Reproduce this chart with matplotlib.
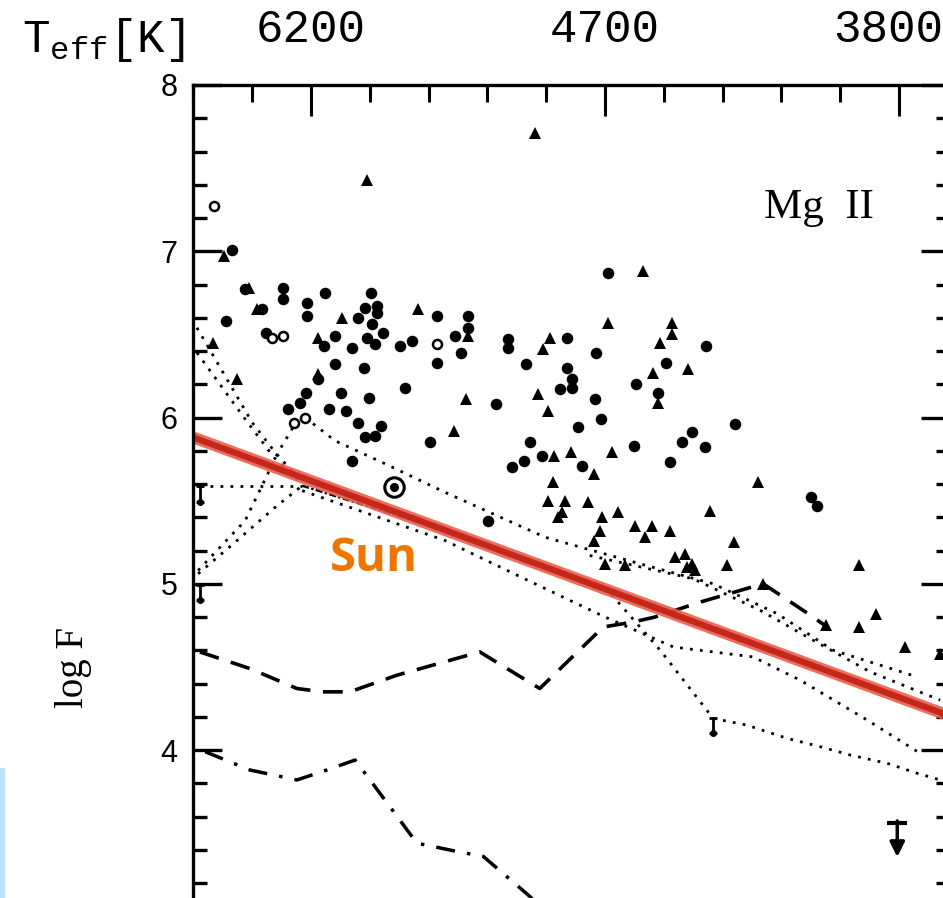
import matplotlib
matplotlib.use('Agg')
import matplotlib.pyplot as plt
import matplotlib.transforms as mtransforms
from matplotlib.patches import Rectangle

# Mg II surface flux vs colour (B-V), Teff shown on top
plt.rcParams['mathtext.fontset'] = 'custom'
plt.rcParams['mathtext.rm'] = 'Liberation Mono'

# filled circles (B-V, log F)
circ_x = [0.366, 0.388, 0.452, 0.452, 0.417, 0.355, 0.423, 0.493, 0.493, 0.524,
          0.602, 0.592, 0.612, 0.612, 0.580, 0.604, 0.622, 0.595, 0.609, 0.522,
          0.541, 0.570, 0.651, 0.672, 0.714, 0.714, 0.541, 0.590, 0.512, 0.660,
          0.491, 0.551, 0.599, 0.481, 0.461, 0.531, 0.560, 0.580, 0.619, 0.592,
          0.609, 0.702, 0.570, 0.872, 0.862, 0.893, 0.842, 0.801, 1.005, 0.767,
          0.767, 0.745, 0.755, 0.835, 0.835, 0.935, 0.985, 0.866, 0.935, 0.944,
          0.944, 0.923, 0.815, 0.983, 0.993, 0.954, 1.053, 1.104, 1.090, 1.172,
          1.221, 0.961, 1.049, 1.111, 1.131, 1.148, 1.170, 1.350, 1.361]
circ_y = [7.01, 6.77, 6.78, 6.71, 6.65, 6.58, 6.51, 6.69, 6.61, 6.75,
          6.75, 6.66, 6.67, 6.63, 6.60, 6.56, 6.51, 6.48, 6.44, 6.43,
          6.49, 6.42, 6.43, 6.46, 6.61, 6.33, 6.32, 6.30, 6.23, 6.18,
          6.15, 6.15, 6.12, 6.09, 6.05, 6.05, 6.04, 5.97, 5.95, 5.88,
          5.89, 5.85, 5.74, 5.85, 5.74, 5.77, 5.70, 5.38, 6.87, 6.61,
          6.54, 6.49, 6.39, 6.47, 6.42, 6.48, 6.39, 6.32, 6.30, 6.23,
          6.18, 6.17, 6.08, 6.11, 5.99, 5.94, 6.20, 6.33, 6.15, 6.43,
          5.96, 5.71, 5.83, 5.73, 5.85, 5.91, 5.82, 5.52, 5.47]

# filled triangles
tri_x = [0.352, 0.395, 0.408, 0.333, 0.553, 0.512, 0.682, 0.374, 0.512, 0.595,
         0.881, 1.065, 0.767, 0.906, 0.895, 1.005, 0.764, 0.886, 0.903, 1.082,
         1.094, 1.114, 1.114, 1.141, 1.090, 0.743, 0.913, 0.942, 0.981, 1.012,
         0.912, 0.903, 0.932, 0.927, 0.920, 0.971, 0.995, 1.022, 0.991, 1.051,
         1.080, 1.068, 1.111, 0.981, 1.119, 1.136, 1.148, 1.139, 1.153, 1.000,
         1.034, 1.260, 1.179, 1.219, 1.207, 1.432, 1.461, 1.432, 1.376, 1.510,
         1.570, 1.269]
tri_y = [6.97, 6.78, 6.65, 6.45, 6.60, 6.48, 6.65, 6.23, 6.26, 7.43,
         7.71, 6.88, 6.49, 6.48, 6.41, 6.57, 6.11, 6.14, 6.04, 6.27,
         6.45, 6.57, 6.50, 6.29, 6.09, 5.92, 5.77, 5.79, 5.66, 5.79,
         5.61, 5.50, 5.50, 5.43, 5.40, 5.49, 5.40, 5.43, 5.32, 5.35,
         5.35, 5.28, 5.32, 5.26, 5.16, 5.18, 5.12, 5.10, 5.08, 5.12,
         5.11, 5.61, 5.44, 5.25, 5.11, 5.11, 4.82, 4.74, 4.75, 4.62,
         4.58, 5.00]

# open circles
open_x = [0.335, 0.434, 0.452, 0.714, 0.471, 0.490]
open_y = [7.27, 6.48, 6.49, 6.44, 5.97, 6.00]

sun_x, sun_y = 0.641, 5.58

# error bars / upper limit
err_x = [0.311, 0.311, 1.184]
err_top = [5.59, 4.99, 4.19]
err_bot = [5.49, 4.90, 4.10]
lim_x, lim_top, lim_end = 1.497, 3.56, 3.34

# model curves
dash_x = [0.311, 0.396, 0.476, 0.520, 0.566, 0.646, 0.787, 0.889, 0.997, 1.048,
          1.085, 1.162, 1.269, 1.337, 1.378]
dash_y = [4.59, 4.49, 4.37, 4.35, 4.35, 4.45, 4.59, 4.37, 4.74, 4.77,
          4.80, 4.89, 5.00, 4.84, 4.74]
dashdot_x = [0.320, 0.396, 0.476, 0.527, 0.575, 0.634, 0.680, 0.748, 0.793, 0.872, 0.898]
dashdot_y = [3.99, 3.88, 3.82, 3.88, 3.94, 3.66, 3.44, 3.39, 3.36, 3.12, 3.03]

# evolutionary tracks (dotted)
tracks = [
    ([0.311, 0.485], [5.59, 5.59]),
    ([1.000, 1.094, 1.184], [4.98, 4.60, 4.19]),
    ([0.306, 0.400, 0.439, 0.485], [6.54, 5.97, 5.79, 5.61]),
    ([0.306, 0.386, 0.437, 0.485], [6.39, 6.00, 5.76, 5.60]),
    ([0.308, 0.388, 0.444, 0.471], [5.08, 5.38, 5.79, 5.95]),
    ([0.308, 0.371, 0.439, 0.485], [5.06, 5.25, 5.46, 5.59]),
    ([0.490, 0.541, 0.621, 0.728, 0.898, 1.060, 1.184, 1.293, 1.388, 1.531],
     [6.00, 5.86, 5.73, 5.55, 5.28, 5.12, 5.00, 4.82, 4.60, 4.44]),
    ([0.485, 0.728, 0.869, 1.000, 1.116, 1.252, 1.332, 1.446, 1.536],
     [5.56, 5.26, 5.02, 4.80, 4.62, 4.56, 4.42, 4.18, 3.98]),
    ([0.974, 1.150, 1.264, 1.354, 1.451, 1.570], [5.17, 5.03, 4.84, 4.66, 4.47, 4.30]),
    ([1.184, 1.241, 1.310, 1.366, 1.417, 1.480, 1.531, 1.570],
     [4.19, 4.15, 4.07, 4.02, 3.97, 3.92, 3.86, 3.82]),
]
fine_x = [0.485, 0.728, 1.000]
fine_y = [5.59, 5.32, 4.98]

sunline_x = [0.30, 1.59]
sunline_y = [5.88, 4.20]

teff_pos = [0.5, 1.0, 1.5]
teff_lab = ['6200', '4700', '3800']

fig = plt.figure(figsize=(9.43, 8.98), dpi=100)
ax = fig.add_axes([193/943, 0, 757/943, 813/898])

for tx, ty in tracks:
    ax.plot(tx, ty, color='k', lw=2, linestyle=(0, (1, 2.6)))
ax.plot(fine_x, fine_y, color='k', lw=1.7, linestyle=(0, (3, 1, 1, 1)))
ax.plot(dash_x, dash_y, color='k', lw=2.6, linestyle=(0, (5.5, 3.5)))
ax.plot(dashdot_x, dashdot_y, color='k', lw=2.5, linestyle=(0, (5.5, 3.5, 1, 3.5)))

ax.plot(circ_x, circ_y, 'o', color='k', ms=8.3, mew=0)
ax.plot(tri_x, tri_y, '^', color='k', ms=9, mew=0)
ax.plot(open_x, open_y, 'o', mfc='white', mec='k', ms=6.5, mew=1.8)
ax.plot(sun_x, sun_y, 'o', mfc='none', mec='k', ms=14, mew=2.2)
ax.plot(sun_x, sun_y, 'o', color='k', ms=5.5)

ax.errorbar(err_x, [(a + b) / 2 for a, b in zip(err_top, err_bot)],
            yerr=[(a - b) / 2 for a, b in zip(err_top, err_bot)],
            fmt='none', ecolor='k', elinewidth=2, capsize=3, capthick=2)
ax.plot(err_x, err_bot, 'o', color='k', ms=4)
ax.plot(lim_x, lim_top, '_', color='k', ms=15, mew=3)
ax.annotate('', xy=(lim_x, lim_end), xytext=(lim_x, lim_top + 0.03),
            arrowprops=dict(arrowstyle='-|>', color='k', lw=2.5, mutation_scale=22))

# solar line overlay
ax.plot(sunline_x, sunline_y, color='#EC5E4A', lw=8.5, alpha=0.9, solid_capstyle='butt')
ax.plot(sunline_x, sunline_y, color='#C4281C', lw=4.5, solid_capstyle='butt')
ax.text(0.607, 5.15, 'Sun', color='#EE7600', fontsize=34, fontweight='bold',
        family='Open Sans', ha='center', va='center')

ax.text(1.364, 7.26, 'Mg  II', family='Liberation Serif', fontsize=31,
        ha='center', va='center')

ax.set_xlim(0.2993, 1.5867)
ax.set_ylim(3.11, 8.0)

ax.spines['bottom'].set_visible(False)
for s in ['left', 'top', 'right']:
    ax.spines[s].set_linewidth(2.4)

ax.set_xticks(teff_pos)
ax.set_xticklabels(teff_lab, family='Liberation Mono', fontsize=33)
ax.set_xticks([0.3 + 0.1 * i for i in range(13)], minor=True)
ax.set_yticks([4, 5, 6, 7, 8])
ax.set_yticklabels(['4', '5', '6', '7', '8'], family=['Liberation Sans Narrow', 'Liberation Sans'],
                   fontsize=22)
ax.set_yticks([3.2 + 0.2 * i for i in range(24)], minor=True)
ax.tick_params(axis='x', which='both', direction='in', top=True, bottom=False,
               labeltop=True, labelbottom=False, width=2.2)
ax.tick_params(axis='x', which='major', length=22, pad=24)
ax.tick_params(axis='x', which='minor', length=12)
ax.tick_params(axis='y', which='both', direction='in', left=True, right=True, width=2.4)
ax.tick_params(axis='y', which='major', length=21, pad=11)
ax.tick_params(axis='y', which='minor', length=10)

# the last Teff label sits a little left of its tick in the original
shift = mtransforms.ScaledTranslation(-11/100, 0, fig.dpi_scale_trans)
lab = ax.get_xticklabels()[2]
lab.set_transform(lab.get_transform() + shift)

ax.set_ylabel('log F', family='Liberation Serif', fontsize=28)
ax.yaxis.set_label_coords(-0.133, 0.283)

fig.text(22/943, 1 - 52/898, 'T$_{\\rm eff}$[K]', family='Liberation Mono',
         fontsize=33, ha='left', va='baseline')

fig.patches.append(Rectangle((0, 0), 4/943, 130/898, transform=fig.transFigure,
                             color='#BDE2FA', zorder=0))

fig.savefig('out.png', dpi=100)
